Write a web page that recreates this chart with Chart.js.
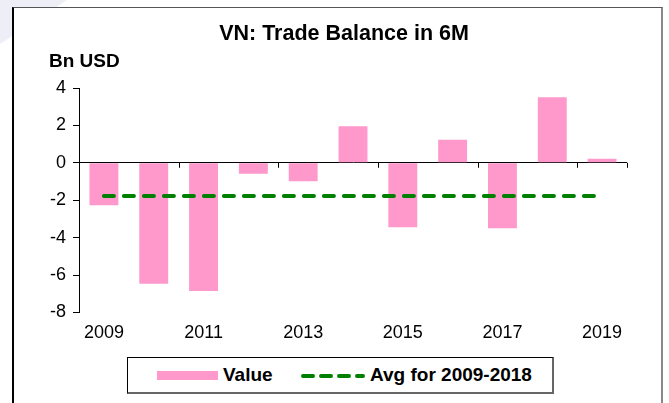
<!DOCTYPE html>
<html>
<head>
<meta charset="utf-8">
<script src="https://cdn.jsdelivr.net/npm/chart.js@4"></script>
<style>
  body { margin: 0; width: 669px; height: 403px; overflow: hidden; background: #fff; position: relative; font-family: "Liberation Sans", Arial, sans-serif; }
  #corner { position: absolute; left: 0; top: 0; width: 70px; height: 50px; background: #eeeef7; clip-path: polygon(0 0, 67px 0, 0 44px); }
  #frame { position: absolute; left: 12px; top: 7px; width: 647px; height: 420px; background: #fff; border-left: 2px solid #000; border-top: 1px solid #555; border-right: 2px solid #888; }
  #wrap { position: absolute; left: 0; top: 0; width: 669px; height: 403px; }
  #legend { position: absolute; left: 127px; top: 357px; width: 424px; height: 34px; border: 1px solid #000; border-right: 2px solid #666; border-bottom: 2px solid #666; background: #fff; }
  #legend .sw { position: absolute; left: 29px; top: 13px; width: 61px; height: 9px; background: #ff99cc; }
  #legend .lbl { position: absolute; top: 5px; font-weight: bold; font-size: 19px; line-height: 23px; color: #000; }
  #legend svg { position: absolute; left: 172px; top: 14px; }
</style>
</head>
<body>
<div id="corner"></div>
<div id="frame"></div>
<div id="wrap"><canvas id="chart" width="669" height="403"></canvas></div>
<div id="legend">
  <div class="sw"></div>
  <div class="lbl" style="left:95px">Value</div>
  <svg width="66" height="8"><line x1="3" y1="4" x2="63" y2="4" stroke="#008000" stroke-width="4" stroke-dasharray="10 8" stroke-linecap="round"/></svg>
  <div class="lbl" style="left:242px">Avg for 2009-2018</div>
</div>
<script>
// Chart data
const years = ['2009', '2010', '2011', '2012', '2013', '2014', '2015', '2016', '2017', '2018', '2019'];
const tradeBalance = [-2.27, -6.47, -6.86, -0.58, -0.99, 1.95, -3.44, 1.23, -3.50, 3.51, 0.22];
const avg2009to2018 = [-1.77, -1.77, -1.77, -1.77, -1.77, -1.77, -1.77, -1.77, -1.77, -1.77, -1.77];
const yMin = -8;
const yMax = 4;
const yStep = 2;

const chartTitle = 'VN: Trade Balance in 6M';
const unitLabel = 'Bn USD';
const fontFamily = '"Liberation Sans", Arial, sans-serif';

// Title, unit label and small ticks on the zero line
const decorations = {
    id: 'decorations',
    afterDraw(chart) {
        const ctx = chart.ctx;
        const x = chart.scales.x;
        const y = chart.scales.y;
        ctx.save();
        ctx.fillStyle = '#000';
        ctx.textBaseline = 'middle';
        ctx.textAlign = 'center';
        ctx.font = 'bold 21.5px ' + fontFamily;
        ctx.fillText(chartTitle, 344, 34);
        ctx.textAlign = 'left';
        ctx.font = 'bold 19px ' + fontFamily;
        ctx.fillText(unitLabel, 49, 62);

        // tick marks every two categories on the zero line
        const zeroY = y.getPixelForValue(0);
        const step = (x.right - x.left) / years.length;
        ctx.strokeStyle = '#000';
        ctx.lineWidth = 1;
        ctx.beginPath();
        for (let i = 2; i <= years.length; i += 2) {
            const px = Math.round(x.left + i * step) + 0.5;
            ctx.moveTo(px, zeroY);
            ctx.lineTo(px, zeroY + 5);
        }
        const endX = Math.round(x.right) + 0.5;
        ctx.moveTo(endX, zeroY);
        ctx.lineTo(endX, zeroY + 5);
        ctx.stroke();
        ctx.restore();
    }
};

const ctx = document.getElementById('chart').getContext('2d');
new Chart(ctx, {
    data: {
        labels: years,
        datasets: [
            {
                type: 'line',
                label: 'Avg for 2009-2018',
                data: avg2009to2018,
                borderColor: '#008000',
                borderWidth: 4,
                borderDash: [10, 10],
                borderCapStyle: 'round',
                pointRadius: 0,
                fill: false,
                order: 1
            },
            {
                type: 'bar',
                label: 'Value',
                data: tradeBalance,
                backgroundColor: '#ff99cc',
                borderWidth: 0,
                categoryPercentage: 1.0,
                barPercentage: 0.58,
                order: 2
            }
        ]
    },
    options: {
        responsive: false,
        animation: false,
        layout: {
            padding: { left: 13, right: 42, top: 88, bottom: 49 }
        },
        plugins: {
            legend: { display: false },
            title: { display: false },
            tooltip: { enabled: false }
        },
        scales: {
            x: {
                grid: { display: false, drawTicks: false },
                border: { display: false },
                ticks: {
                    autoSkip: false,
                    maxRotation: 0,
                    padding: 10,
                    color: '#000',
                    font: { family: fontFamily, size: 18 },
                    callback: function(value, index) {
                        return index % 2 === 0 ? years[index] : '';
                    }
                }
            },
            y: {
                min: yMin,
                max: yMax,
                afterFit: function(scale) { scale.width = 66; },
                ticks: {
                    stepSize: yStep,
                    padding: 7,
                    color: '#000',
                    font: { family: fontFamily, size: 18 }
                },
                border: { display: true, color: '#000', width: 1 },
                grid: {
                    drawOnChartArea: true,
                    drawTicks: true,
                    tickLength: 6,
                    tickColor: '#000',
                    color: function(c) {
                        return c.tick && c.tick.value === 0 ? '#000' : 'rgba(0,0,0,0)';
                    }
                }
            }
        }
    },
    plugins: [decorations]
});
</script>
</body>
</html>
